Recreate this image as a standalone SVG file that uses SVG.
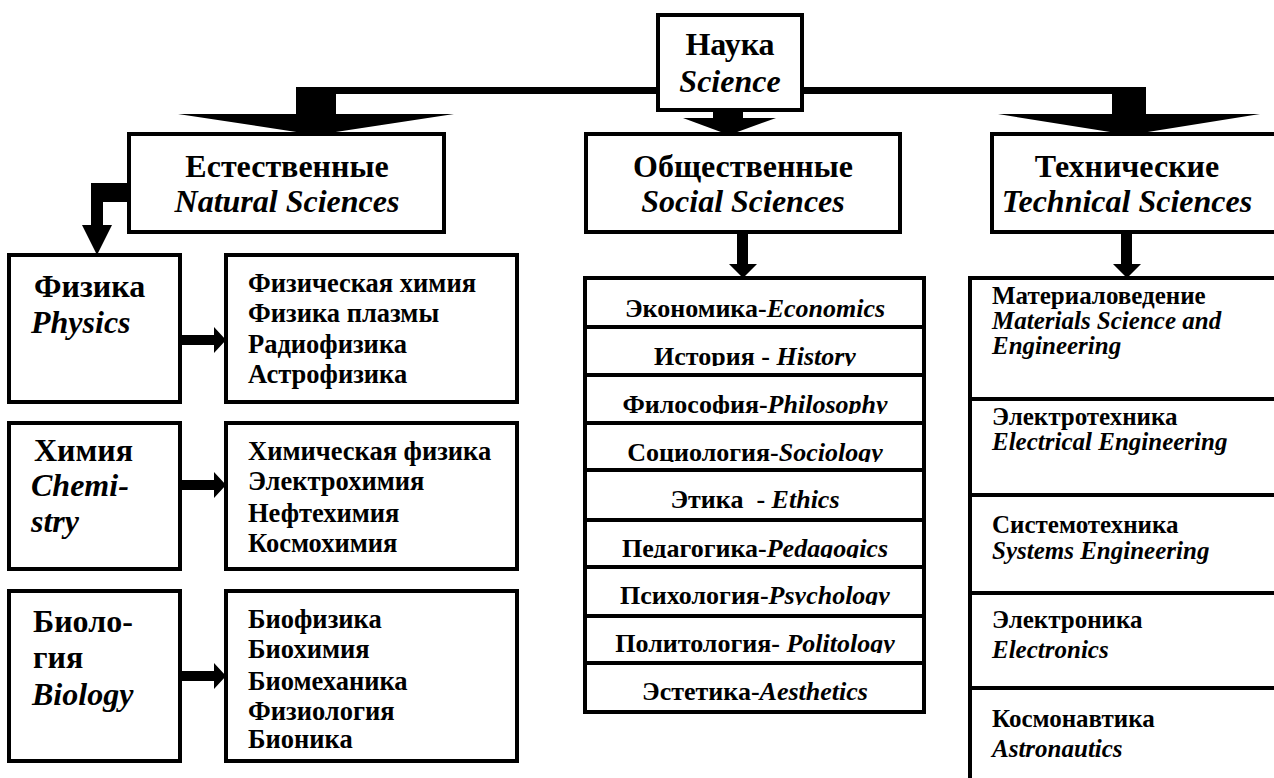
<svg xmlns="http://www.w3.org/2000/svg" width="1274" height="778" viewBox="0 0 1274 778">
<style>
.box{fill:#fff;stroke:#000;stroke-width:4}
.row{fill:none;stroke:#000;stroke-width:4}
text{font-family:"Liberation Serif","Times New Roman",serif;fill:#000;font-weight:bold;white-space:pre}
.h{font-size:32px;text-anchor:middle}
.l{font-size:32px}
.s{font-size:26.5px}
.m{font-size:26px;text-anchor:middle}
.t{font-size:25px}
.i{font-style:italic}
</style>
<defs>
<clipPath id="c2"><rect x="586" y="327" width="338" height="39"/></clipPath>
<clipPath id="c3"><rect x="586" y="375" width="338" height="39"/></clipPath>
<clipPath id="c4"><rect x="586" y="423" width="338" height="39"/></clipPath>
<clipPath id="c6"><rect x="586" y="520" width="338" height="38"/></clipPath>
<clipPath id="c7"><rect x="586" y="567" width="338" height="38"/></clipPath>
<clipPath id="c8"><rect x="586" y="616" width="338" height="37"/></clipPath>
</defs>
<rect width="1274" height="778" fill="#fff"/>

<g id="connectors" fill="#000">
  <rect x="296" y="87" width="850" height="7"/>
  <rect x="296" y="87" width="40" height="29"/>
  <polygon points="178,114 454,114 316,135"/>
  <rect x="1112" y="87" width="34" height="29"/>
  <polygon points="998,114 1260,114 1129,135"/>
  <rect x="713" y="108" width="30" height="12"/>
  <polygon points="683,118 776,118 729,135"/>
  <path d="M130,183 H91 V225 H82 L97,255 L112,225 H103 V202 H130 Z"/>
  <path d="M180,335 H214 V327 L226,340 L214,353 V345 H180 Z"/>
  <path d="M180,480 H214 V472 L226,485 L214,498 V490 H180 Z"/>
  <path d="M180,671 H214 V663 L226,676 L214,689 V681 H180 Z"/>
  <path d="M737,232 H748 V264 H757 L743,278 L729,264 H737 Z"/>
  <path d="M1121,232 H1132 V264 H1141 L1127,278 L1113,264 H1121 Z"/>
</g>

<g id="science">
  <rect class="box" x="658" y="15" width="144" height="95"/>
  <text class="h" x="730" y="55">Наука</text>
  <text class="h i" x="730" y="92">Science</text>
</g>

<g id="natural">
  <rect class="box" x="129" y="134" width="315" height="98"/>
  <text class="h" x="287" y="177">Естественные</text>
  <text class="h i" x="287" y="212">Natural Sciences</text>
</g>

<g id="social">
  <rect class="box" x="586" y="134" width="314" height="98"/>
  <text class="h" x="743" y="177">Общественные</text>
  <text class="h i" x="743" y="212">Social Sciences</text>
</g>

<g id="technical">
  <rect class="box" x="992" y="134" width="320" height="98"/>
  <text class="h" x="1127" y="177">Технические</text>
  <text class="h i" x="1127" y="212">Technical Sciences</text>
</g>

<g id="physics">
  <rect class="box" x="9" y="255" width="171" height="147"/>
  <text class="l" x="34" y="297">Физика</text>
  <text class="l i" x="31" y="333">Physics</text>
</g>
<g id="physics-sub">
  <rect class="box" x="226" y="255" width="291" height="147"/>
  <text class="s" x="248" y="292">Физическая химия</text>
  <text class="s" x="248" y="322">Физика плазмы</text>
  <text class="s" x="248" y="353">Радиофизика</text>
  <text class="s" x="248" y="383">Астрофизика</text>
</g>

<g id="chemistry">
  <rect class="box" x="9" y="423" width="171" height="146"/>
  <text class="l" x="34" y="461">Химия</text>
  <text class="l i" x="31" y="496">Chemi-</text>
  <text class="l i" x="31" y="532">stry</text>
</g>
<g id="chemistry-sub">
  <rect class="box" x="226" y="423" width="291" height="146"/>
  <text class="s" x="248" y="460">Химическая физика</text>
  <text class="s" x="248" y="490">Электрохимия</text>
  <text class="s" x="248" y="522">Нефтехимия</text>
  <text class="s" x="248" y="552">Космохимия</text>
</g>

<g id="biology">
  <rect class="box" x="9" y="591" width="171" height="170"/>
  <text class="l" x="33" y="632">Биоло-</text>
  <text class="l" x="33" y="668">гия</text>
  <text class="l i" x="32" y="705">Biology</text>
</g>
<g id="biology-sub">
  <rect class="box" x="226" y="591" width="291" height="170"/>
  <text class="s" x="248" y="628">Биофизика</text>
  <text class="s" x="248" y="658">Биохимия</text>
  <text class="s" x="248" y="690">Биомеханика</text>
  <text class="s" x="248" y="720">Физиология</text>
  <text class="s" x="248" y="748" font-size="24">Бионика</text>
</g>

<g id="social-list">
  <rect class="box" x="585" y="278" width="339" height="434"/>
  <path class="row" d="M585,327 H924 M585,375 H924 M585,423 H924 M585,470 H924 M585,520 H924 M585,567 H924 M585,616 H924 M585,663 H924"/>
  <text class="m" x="755" y="317">Экономика-<tspan class="i">Economics</tspan></text>
  <text class="m" x="755" y="365" clip-path="url(#c2)">История - <tspan class="i">History</tspan></text>
  <text class="m" x="755" y="413" clip-path="url(#c3)">Философия-<tspan class="i">Philosophy</tspan></text>
  <text class="m" x="755" y="461" clip-path="url(#c4)">Социология-<tspan class="i">Sociology</tspan></text>
  <text class="m" x="755" y="508">Этика  - <tspan class="i">Ethics</tspan></text>
  <text class="m" x="755" y="557" clip-path="url(#c6)">Педагогика-<tspan class="i">Pedagogics</tspan></text>
  <text class="m" x="755" y="604" clip-path="url(#c7)">Психология-<tspan class="i">Psychology</tspan></text>
  <text class="m" x="755" y="652" clip-path="url(#c8)">Политология- <tspan class="i">Politology</tspan></text>
  <text class="m" x="755" y="700">Эстетика-<tspan class="i">Aesthetics</tspan></text>
</g>

<g id="technical-list">
  <rect class="box" x="970" y="278" width="340" height="520"/>
  <path class="row" d="M970,399 H1274 M970,495 H1274 M970,593 H1274 M970,688 H1274"/>
  <text class="t" x="992" y="304">Материаловедение</text>
  <text class="t i" x="992" y="329">Materials Science and</text>
  <text class="t i" x="992" y="354">Engineering</text>
  <text class="t" x="992" y="425">Электротехника</text>
  <text class="t i" x="992" y="450">Electrical Engineering</text>
  <text class="t" x="992" y="533">Системотехника</text>
  <text class="t i" x="992" y="559">Systems Engineering</text>
  <text class="t" x="992" y="628">Электроника</text>
  <text class="t i" x="992" y="658">Electronics</text>
  <text class="t" x="992" y="727">Космонавтика</text>
  <text class="t i" x="992" y="757">Astronautics</text>
</g>
</svg>
